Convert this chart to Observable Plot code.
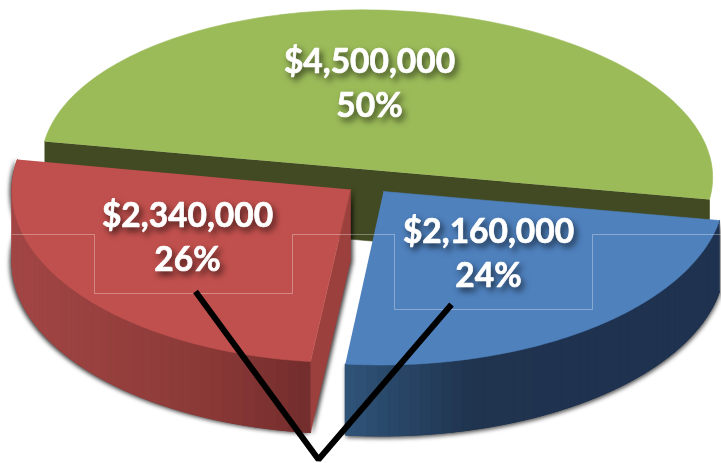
<!DOCTYPE html>
<html>
<head>
<meta charset="utf-8">
<script src="https://cdn.jsdelivr.net/npm/d3@7"></script>
<script src="https://cdn.jsdelivr.net/npm/@observablehq/plot@0.6"></script>
<style>
html,body{margin:0;padding:0;background:#fff;overflow:hidden}
svg{display:block}
</style>
</head>
<body>
<div id="chart"></div>
<script>
// Data
const categories = ["Green", "Blue", "Red"];
const amounts = [4500000, 2160000, 2340000];
const amountLabels = ["$4,500,000", "$2,160,000", "$2,340,000"];
const percentLabels = ["50%", "24%", "26%"];
const labelX = [369, 488, 187];
const labelY = [80, 250, 234];

// Appearance of each slice
const topColors = ["#9bbb59", "#4f81bd", "#c0504d"];
const wallStops = [["#414a22", "#414a22"], ["#2f5479", "#20344f", "#1f3250", "#1f3250"], ["#a24645", "#96403e", "#8a3937", "#722d2c"]];

// Projection of each exploded slice: centre and conjugate semi-axes
const centerX = [376.5, 383, 350], centerY = [170, 191, 189];
const axisUX = [332.5, 336, 333], axisUY = [29, 29, 30];
const axisVX = [-46, -59.4, -61], axisVY = [158, 171, 170.5];
const depth = 71;

// Annotation strokes and the faint callout rule
const pointerX = [195, 318, 451], pointerY = [291, 459, 304];
const ruleX = [12, 94, 94, 292, 292, 394, 394, 592, 592, 721];
const ruleY = [234, 234, 293, 293, 234, 234, 309, 309, 234, 234];

const total = d3.sum(amounts);
// Slices sweep from the front-right: blue, red, then green across the back
const order = [1, 2, 0];
let running = 0;
const spans = order.map(i => {
  const a0 = running / total * 2 * Math.PI;
  running += amounts[i];
  return {i, a0, a1: running / total * 2 * Math.PI};
});
const spanOf = i => spans.find(s => s.i === i);
const project = (i, a, r = 1) => ({
  x: centerX[i] + r * (axisUX[i] * Math.cos(a) + axisVX[i] * Math.sin(a)),
  y: centerY[i] + r * (axisUY[i] * Math.cos(a) + axisVY[i] * Math.sin(a))
});
const arc = (i, n = 120) => {
  const {a0, a1} = spanOf(i);
  return d3.range(n + 1).map(k => project(i, a0 + (a1 - a0) * k / n));
};
const wedge = i => [project(i, 0, 0), ...arc(i)];
const down = p => ({x: p.x, y: p.y + depth});

// Outer wall, cut in narrow bands of shaded colour
function wallBands(i, count) {
  const pts = arc(i, count);
  const xs = d3.extent(pts, p => p.x);
  const ramp = d3.scaleLinear().domain(d3.quantize(d3.interpolate(xs[0], xs[1]), wallStops[i].length)).range(wallStops[i]);
  const out = [];
  pts.slice(0, -1).forEach((p, k) => {
    const q = pts[k + 1];
    const color = ramp((p.x + q.x) / 2);
    [p, q, down(q), down(p)].forEach(v => out.push({...v, band: k, color}));
  });
  return out;
}
const line = (pts, fill, extra = {}) => Plot.line(pts, {x: "x", y: "y", fill, stroke: fill, strokeWidth: 0.6, curve: "linear", ...extra});
const bands = (i, n) => Plot.line(wallBands(i, n), {x: "x", y: "y", z: "band", fill: "color", stroke: "color", strokeWidth: 1, curve: "linear"});

const g = spanOf(0), r = spanOf(2);
const gA = project(0, g.a0), gB = project(0, g.a1);
const redInner = [project(2, r.a0, 0), project(2, r.a0)];
const wallBody = i => [...arc(i), ...arc(i).map(down).reverse()];
const redInnerWall = [redInner[0], down(redInner[0]), down(redInner[1]), redInner[1]];
const labels = categories.map((c, i) => ({c, x: labelX[i], y: labelY[i], t: amountLabels[i] + "\n" + percentLabels[i]}));

const chart = Plot.plot({
  width: 721, height: 463, margin: 0,
  x: {domain: [0, 721], range: [0, 721], axis: null},
  y: {domain: [0, 463], range: [0, 463], axis: null},
  color: {type: "identity"},
  style: {background: "#fff"},
  marks: [
    // green front wall and top
    line([gA, gB, down(gB), down(gA)], "#414a22"),
    line(wedge(0).slice(1), topColors[0]),
    // soft shadows cast by the two front slices
    line(wallBody(2), "#8a3937", {imageFilter: "drop-shadow(-2px 1px 2px rgba(0,0,0,.75))"}),
    line(redInnerWall, "#9c403e", {imageFilter: "drop-shadow(2px 1px 2px rgba(0,0,0,.75))"}),
    line(wallBody(1), "#1f3250", {imageFilter: "drop-shadow(1px 2px 2px rgba(0,0,0,.7))"}),
    // red
    bands(2, 48),
    line(wedge(2), topColors[2]),
    // blue
    bands(1, 48),
    line(wedge(1), topColors[1]),
    // faint callout rule
    Plot.line(ruleX.map((x, k) => ({x, y: ruleY[k]})), {x: "x", y: "y", stroke: "#fff", strokeOpacity: 0.32, strokeWidth: 1, curve: "linear"}),
    // pointer
    Plot.line(pointerX.map((x, k) => ({x, y: pointerY[k]})), {x: "x", y: "y", stroke: "#000", strokeWidth: 6, strokeLinejoin: "miter", strokeLinecap: "butt", curve: "linear"}),
    // labels
    Plot.text(labels, {x: "x", y: "y", text: "t", fill: "#fff", stroke: "#fff", strokeWidth: 0.7, fontFamily: "Lato", fontWeight: 700, fontSize: 33.5, lineHeight: 1.32, lineAnchor: "middle", textAnchor: "middle",
      imageFilter: "drop-shadow(3px 4px 3px rgba(0,0,0,.6))"})
  ]
});
document.getElementById("chart").append(chart);
</script>
</body>
</html>
